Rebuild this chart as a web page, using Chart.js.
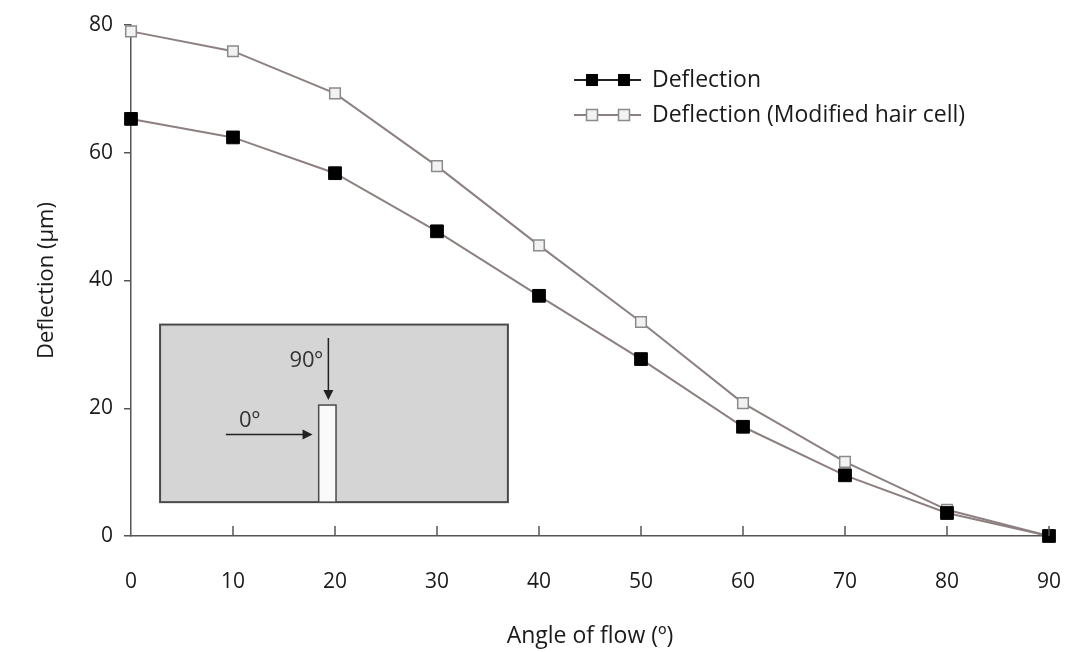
<!DOCTYPE html>
<html>
<head>
<meta charset="utf-8">
<script src="https://cdn.jsdelivr.net/npm/chart.js@4.4.1/dist/chart.umd.min.js"></script>
<style>
  html, body { margin: 0; padding: 0; background: #fff; }
  #wrap { width: 1076px; height: 652px; }
</style>
</head>
<body>
<div id="wrap"><canvas id="mycanvas" width="1076" height="652"></canvas></div>
<script>
var angles = [0, 10, 20, 30, 40, 50, 60, 70, 80, 90];
var deflection = [65.3, 62.4, 56.8, 47.7, 37.6, 27.7, 17.1, 9.5, 3.6, 0];
var deflectionModified = [79.0, 75.9, 69.3, 57.9, 45.5, 33.5, 20.8, 11.6, 4.1, 0];
var seriesNames = ["Deflection", "Deflection (Modified hair cell)"];
var xTicks = [0, 10, 20, 30, 40, 50, 60, 70, 80, 90];
var yTicks = [0, 20, 40, 60, 80];

var FONT = "'Open Sans', 'Noto Sans', sans-serif";
var lineColor = "#8d8080";

function toPoints(xs, ys) {
    var pts = [];
    for (var i in xs) {
        pts.push({x: xs[i], y: ys[i]});
    }
    return pts;
}

// inset sketch (the flow-angle diagram) + inward x ticks + legend
var extras = {
    id: "extras",
    beforeDatasetsDraw: function(chart) {
        var ctx = chart.ctx;
        var xs = chart.scales.x, ys = chart.scales.y;
        var px = function(v) { return xs.getPixelForValue(v); };
        var py = function(v) { return ys.getPixelForValue(v); };
        ctx.save();
        // box
        var l = px(2.85), r = px(36.95), t = py(33.1), b = py(5.3);
        ctx.fillStyle = "#d5d5d5";
        ctx.fillRect(l, t, r - l, b - t);
        ctx.strokeStyle = "#4a4a4a";
        ctx.lineWidth = 2;
        ctx.strokeRect(l, t, r - l, b - t);
        // pillar
        var pl = px(18.4), pr = px(20.1), pt = py(20.5);
        ctx.fillStyle = "#fafafa";
        ctx.fillRect(pl, pt, pr - pl, b - pt);
        ctx.lineWidth = 1.5;
        ctx.strokeRect(pl, pt, pr - pl, b - pt);
        // arrows
        ctx.strokeStyle = "#222";
        ctx.fillStyle = "#222";
        ctx.lineWidth = 1.5;
        var ax = px(19.35), ay0 = py(31.0), ay1 = py(21.3);
        ctx.beginPath(); ctx.moveTo(ax, ay0); ctx.lineTo(ax, ay1 - 8); ctx.stroke();
        ctx.beginPath(); ctx.moveTo(ax - 5, ay1 - 10); ctx.lineTo(ax + 5, ay1 - 10); ctx.lineTo(ax, ay1); ctx.closePath(); ctx.fill();
        var hy = py(15.9), hx0 = px(9.3), hx1 = px(17.8);
        ctx.beginPath(); ctx.moveTo(hx0, hy); ctx.lineTo(hx1 - 8, hy); ctx.stroke();
        ctx.beginPath(); ctx.moveTo(hx1 - 10, hy - 5); ctx.lineTo(hx1 - 10, hy + 5); ctx.lineTo(hx1, hy); ctx.closePath(); ctx.fill();
        // labels
        ctx.fillStyle = "#333";
        ctx.font = "22px " + FONT;
        ctx.textBaseline = "alphabetic";
        ctx.textAlign = "right";
        ctx.fillText("90º", px(18.8), py(26.4));
        ctx.textAlign = "left";
        ctx.fillText("0º", px(10.6), py(17.0));
        ctx.restore();
    },
    afterDraw: function(chart) {
        var ctx = chart.ctx;
        var xs = chart.scales.x;
        var area = chart.chartArea;
        ctx.save();
        // inward ticks on x axis
        ctx.strokeStyle = "#555";
        ctx.lineWidth = 1.5;
        for (var i = 1; i < xTicks.length; i++) {
            var x = xs.getPixelForValue(xTicks[i]);
            ctx.beginPath();
            ctx.moveTo(x, area.bottom);
            ctx.lineTo(x, area.bottom - 10);
            ctx.stroke();
        }
        // legend: line with two markers, like the original
        var lx0 = 574, lx1 = 641, rowY = [80, 115];
        for (var k = 0; k < 2; k++) {
            var ds = chart.data.datasets[k];
            var y = rowY[k];
            ctx.strokeStyle = k === 0 ? "#222" : lineColor;
            ctx.lineWidth = 2;
            ctx.beginPath(); ctx.moveTo(lx0, y); ctx.lineTo(lx1, y); ctx.stroke();
            var mx = [592, 624];
            for (var m = 0; m < 2; m++) {
                ctx.fillStyle = ds.pointBackgroundColor;
                ctx.fillRect(mx[m] - 5.5, y - 5.5, 11, 11);
                ctx.strokeStyle = ds.pointBorderColor;
                ctx.lineWidth = ds.pointBorderWidth;
                ctx.strokeRect(mx[m] - 5.5, y - 5.5, 11, 11);
            }
            ctx.fillStyle = "#1a1a1a";
            ctx.font = "23px " + FONT;
            ctx.textAlign = "left";
            ctx.textBaseline = "middle";
            ctx.fillText(ds.label, 652, y);
        }
        ctx.restore();
    }
};

var chartdata = {
    datasets: [
        {
            label: seriesNames[0],
            data: toPoints(angles, deflection),
            borderColor: lineColor,
            borderWidth: 2,
            pointStyle: "rect",
            pointRadius: 9,
            pointBackgroundColor: "#000",
            pointBorderColor: "#000",
            pointBorderWidth: 1,
            clip: false,
            tension: 0
        },
        {
            label: seriesNames[1],
            data: toPoints(angles, deflectionModified),
            borderColor: lineColor,
            borderWidth: 2,
            pointStyle: "rect",
            pointRadius: 7.5,
            pointBackgroundColor: "#f2f2f2",
            pointBorderColor: "#8a8a8a",
            pointBorderWidth: 1.5,
            clip: false,
            tension: 0
        }
    ]
};

var ctx = document.getElementById("mycanvas");

var LineGraph = new Chart(ctx, {
    type: "line",
    data: chartdata,
    plugins: [extras],
    options: {
        responsive: false,
        animation: false,
        events: [],
        layout: { padding: { left: 0, right: 27, top: 25, bottom: 0 } },
        plugins: {
            legend: { display: false },
            tooltip: { enabled: false }
        },
        scales: {
            x: {
                type: "linear",
                min: 0,
                max: 90,
                afterBuildTicks: function(scale) {
                    scale.ticks = xTicks.map(function(v) { return {value: v}; });
                },
                afterFit: function(scale) {
                    scale.height = 116;
                    scale.paddingLeft = 0;
                    scale.paddingRight = 0;
                },
                border: { display: true, color: "#555", width: 1.5 },
                grid: { display: false },
                ticks: {
                    color: "#1a1a1a",
                    font: { family: FONT, size: 21 },
                    padding: 25,
                    maxRotation: 0
                },
                title: {
                    display: true,
                    text: "Angle of flow (º)",
                    color: "#1a1a1a",
                    font: { family: FONT, size: 23 },
                    padding: { top: 0, bottom: 2 }
                }
            },
            y: {
                min: 0,
                max: 80,
                afterBuildTicks: function(scale) {
                    scale.ticks = yTicks.map(function(v) { return {value: v}; });
                },
                afterFit: function(scale) { scale.width = 131; },
                border: { display: true, color: "#555", width: 1.5 },
                grid: { drawOnChartArea: false, drawTicks: true, tickLength: 7, color: "#555", lineWidth: 1.5 },
                ticks: {
                    color: "#1a1a1a",
                    font: { family: FONT, size: 21 },
                    padding: 11
                },
                title: {
                    display: true,
                    text: "Deflection (µm)",
                    color: "#1a1a1a",
                    font: { family: FONT, size: 22 },
                    padding: { top: 34, bottom: 0 }
                }
            }
        }
    }
});
</script>
</body>
</html>
